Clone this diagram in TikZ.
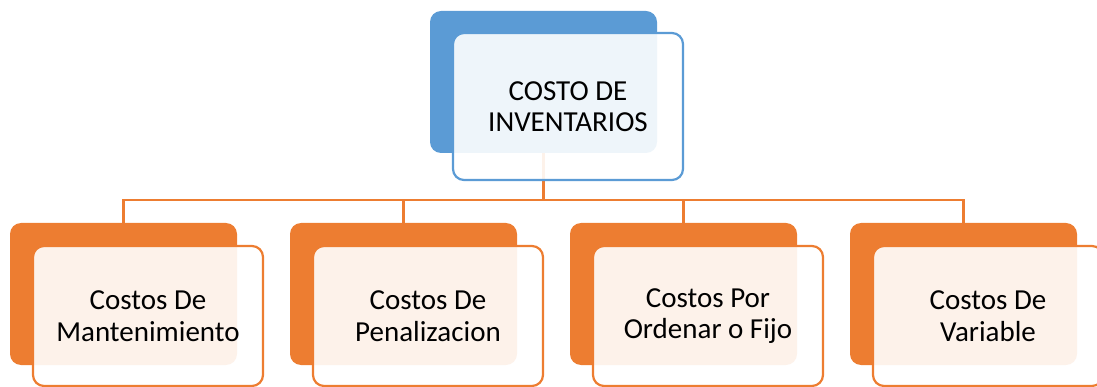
\documentclass[tikz,border=0pt]{standalone}
\usepackage{fontspec}
\setmainfont{Carlito}
\usetikzlibrary{backgrounds}
\pgfdeclarelayer{edgelayer}
\pgfdeclarelayer{nodelayer}
\pgfsetlayers{edgelayer,nodelayer,main}
\definecolor{accblue}{HTML}{5B9BD5}
\definecolor{accorange}{HTML}{ED7D31}
\tikzset{font=\fontsize{29}{31.5}\selectfont}
\tikzstyle{back}=[rectangle,rounded corners=11pt,minimum width=227pt,minimum height=142pt,inner sep=0pt]
\tikzstyle{card}=[rectangle,rounded corners=11pt,minimum width=230pt,inner sep=0pt,line width=2.2pt,fill=white,fill opacity=0.9,text opacity=1,align=center]
\tikzstyle{bluebox}=[back,fill=accblue]
\tikzstyle{bluecard}=[card,draw=accblue,minimum height=147pt]
\tikzstyle{orangebox}=[back,fill=accorange]
\tikzstyle{orangecard}=[card,draw=accorange,minimum height=140pt]
\tikzstyle{link}=[draw=accorange,line width=2.2pt]

\begin{document}
\begin{tikzpicture}[x=1pt,y=-1pt]
	\useasboundingbox (0,0) rectangle (1097,387);
	\begin{pgfonlayer}{nodelayer}
		\node [style=bluebox] (0) at (543.5, 82) {};
		\node [style=bluecard] (1) at (568, 106.5) {COSTO DE\\INVENTARIOS};
		\node [style=orangebox] (2) at (123.5, 294) {};
		\node [style=orangecard] (3) at (148, 316) {Costos De\\Mantenimiento};
		\node [style=orangebox] (4) at (403.5, 294) {};
		\node [style=orangecard] (5) at (428, 316) {Costos De\\Penalizacion};
		\node [style=orangebox] (6) at (683.5, 294) {};
		\node [style=orangecard] (7) at (708, 316) {Costos Por\\Ordenar o Fijo};
		\node [style=orangebox] (8) at (963.5, 294) {};
		\node [style=orangecard] (9) at (988, 316) {Costos De\\Variable};
	\end{pgfonlayer}
	\begin{pgfonlayer}{edgelayer}
		\coordinate (bar) at (543.5, 200);
		\draw [style=link] (0.south) to (bar);
		\foreach \n in {2,4,6,8}
			\draw [style=link] (bar) -| (\n.north);
	\end{pgfonlayer}
\end{tikzpicture}
\end{document}
